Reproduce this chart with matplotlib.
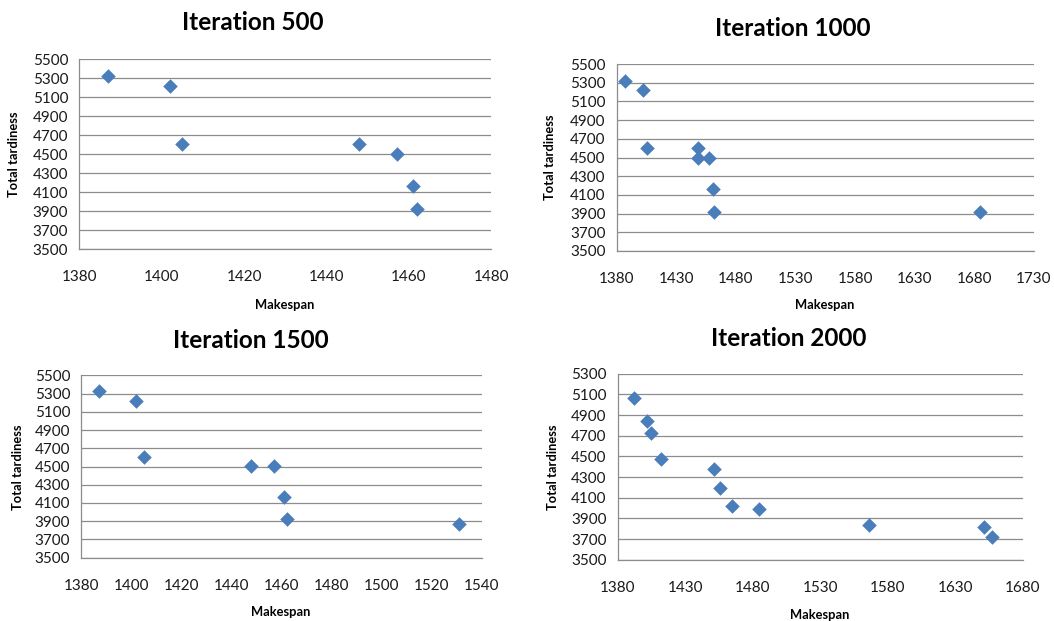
import matplotlib
matplotlib.use("Agg")
import matplotlib.pyplot as plt
import numpy as np

# ---- data ----
titles = ["Iteration 500", "Iteration 1000", "Iteration 1500", "Iteration 2000"]

mk_500 = [1387, 1402, 1405, 1448, 1457, 1461, 1462]
tt_500 = [5325, 5220, 4607, 4607, 4500, 4162, 3918]

mk_1000 = [1387, 1402, 1405, 1448, 1448, 1457, 1461, 1462, 1685]
tt_1000 = [5323, 5219, 4606, 4606, 4500, 4500, 4162, 3918, 3918]

mk_1500 = [1387, 1402, 1405, 1448, 1457, 1461, 1462, 1531]
tt_1500 = [5325, 5219, 4607, 4501, 4501, 4162, 3920, 3873]

mk_2000 = [1392, 1402, 1405, 1412, 1451, 1456, 1465, 1485, 1566, 1651, 1657]
tt_2000 = [5065, 4845, 4726, 4477, 4374, 4194, 4019, 3994, 3839, 3813, 3716]

xticks_500 = [1380, 1400, 1420, 1440, 1460, 1480]
xticks_1000 = [1380, 1430, 1480, 1530, 1580, 1630, 1680, 1730]
xticks_1500 = [1380, 1400, 1420, 1440, 1460, 1480, 1500, 1520, 1540]
xticks_2000 = [1380, 1430, 1480, 1530, 1580, 1630, 1680]
yticks_a = [3500, 3700, 3900, 4100, 4300, 4500, 4700, 4900, 5100, 5300, 5500]
yticks_b = [3500, 3700, 3900, 4100, 4300, 4500, 4700, 4900, 5100, 5300]

W, H = 1054, 621
fig = plt.figure(figsize=(W / 100, H / 100), dpi=100)
FONT = "Lato"
plt.rcParams["font.family"] = [FONT, "DejaVu Sans"]

def px(l, r, t, b):
    return [l / W, 1 - b / H, (r - l) / W, (b - t) / H]

panels = [
    dict(rect=px(79.3, 491.3, 59.3, 249.0), x=mk_500, y=tt_500, xt=xticks_500, yt=yticks_a,
         title=(253, 23), ylab=(14, 154), xlab=(285, 305)),
    dict(rect=px(616.7, 1034.0, 64.0, 251.0), x=mk_1000, y=tt_1000, xt=xticks_1000, yt=yticks_a,
         title=(793, 28), ylab=(550, 157), xlab=(825, 305)),
    dict(rect=px(81.3, 481.7, 375.3, 557.7), x=mk_1500, y=tt_1500, xt=xticks_1500, yt=yticks_a,
         title=(251, 341), ylab=(18, 467), xlab=(281, 612)),
    dict(rect=px(617.7, 1022.7, 373.7, 559.7), x=mk_2000, y=tt_2000, xt=xticks_2000, yt=yticks_b,
         title=(789, 338), ylab=(553, 467), xlab=(820, 615)),
]

grid_c = "#8c8c8c"
for p, title in zip(panels, titles):
    ax = fig.add_axes(p["rect"])
    ax.scatter(p["x"], p["y"], marker="D", s=55, color="#4a7ebb", zorder=3, linewidths=0)
    ax.set_xlim(p["xt"][0], p["xt"][-1])
    ax.set_ylim(p["yt"][0], p["yt"][-1])
    ax.set_xticks(p["xt"])
    ax.set_yticks(p["yt"])
    ax.grid(axis="y", color=grid_c, linewidth=0.9)
    ax.set_axisbelow(True)
    for s in ["top", "right"]:
        ax.spines[s].set_visible(False)
    for s in ["left", "bottom"]:
        ax.spines[s].set_color(grid_c)
        ax.spines[s].set_linewidth(0.9)
    ax.tick_params(axis="both", length=0, labelsize=11, colors="#1a1a1a")
    ax.tick_params(axis="y", pad=8)
    ax.tick_params(axis="x", pad=15)
    tx, ty = p["title"]
    fig.text(tx / W, 1 - ty / H, title, ha="center", va="center", fontsize=17.5,
             fontweight="bold", color="black")
    lx, ly = p["ylab"]
    fig.text(lx / W, 1 - ly / H, "Total tardiness", ha="center", va="center", rotation=90,
             fontsize=9.3, fontweight="bold", color="black")
    mx, my = p["xlab"]
    fig.text(mx / W, 1 - my / H, "Makespan", ha="center", va="center",
             fontsize=9.3, fontweight="bold", color="black")

fig.savefig("out.png", dpi=100, facecolor="white")
